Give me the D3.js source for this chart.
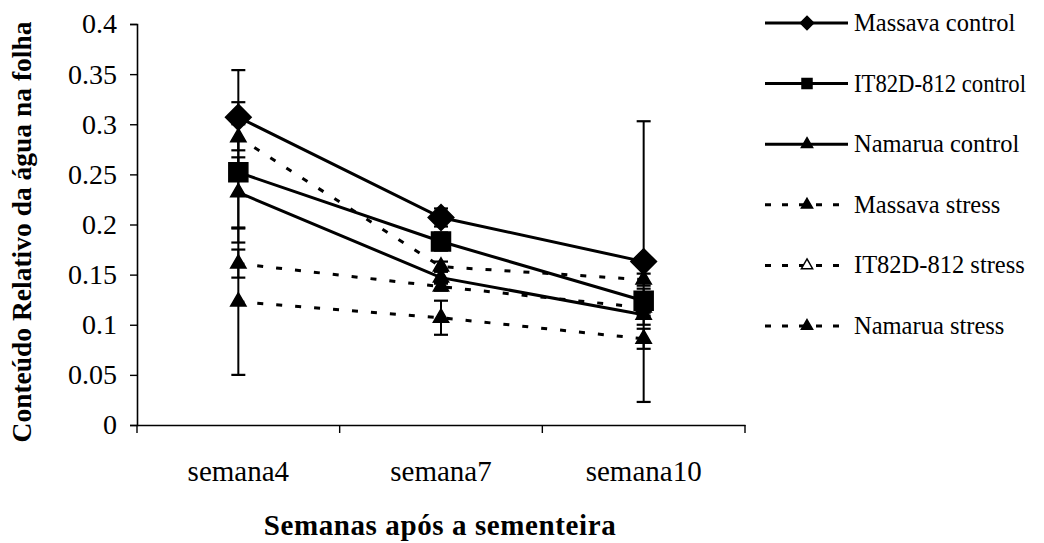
<html>
  <head>
    <script src="https://d3js.org/d3.v7.min.js" charset="utf-8"></script>
    <style type="text/css">
      body { margin: 0; padding: 0; background: #fff; }
      svg { display: block; }
    </style>
  </head>
  <body>
    <div id="chart"></div>
    <script type="text/javascript">
      // data
      var weeks = ["semana4", "semana7", "semana10"];
      var seriesNames = ["Massava control", "IT82D-812 control", "Namarua control",
                         "Massava stress", "IT82D-812 stress", "Namarua stress"];
      var massavaControl = [0.307, 0.207, 0.163];
      var it82Control    = [0.252, 0.183, 0.124];
      var namaruaControl = [0.232, 0.147, 0.110];
      var massavaStress  = [0.287, 0.158, 0.145];
      var it82Stress     = [0.161, 0.138, 0.117];
      var namaruaStress  = [0.123, 0.107, 0.086];
      // error bar half widths
      var massavaControlErr = [0.047, 0.009, 0.140];
      var it82ControlErr    = [0.070, 0.009, 0.012];
      var namaruaControlErr = [0.035, 0.006, 0.010];
      var massavaStressErr  = [0.013, 0.005, 0.006];
      var it82StressErr     = [0.014, 0.004, 0.008];
      var namaruaStressErr  = [0.073, 0.017, 0.010];
      var yTicks = [0, 0.05, 0.1, 0.15, 0.2, 0.25, 0.3, 0.35, 0.4];

      var series = [
        { name: seriesNames[0], values: massavaControl, err: massavaControlErr, dashed: false, marker: "diamond",  legendFill: "#000" },
        { name: seriesNames[1], values: it82Control,    err: it82ControlErr,    dashed: false, marker: "square",   legendFill: "#000" },
        { name: seriesNames[2], values: namaruaControl, err: namaruaControlErr, dashed: false, marker: "triangle", legendFill: "#000" },
        { name: seriesNames[3], values: massavaStress,  err: massavaStressErr,  dashed: true,  marker: "triangle", legendFill: "#000" },
        { name: seriesNames[4], values: it82Stress,     err: it82StressErr,     dashed: true,  marker: "triangle", legendFill: "#fff" },
        { name: seriesNames[5], values: namaruaStress,  err: namaruaStressErr,  dashed: true,  marker: "triangle", legendFill: "#000" }
      ];

      var W = 1044, H = 543;
      var svg = d3.select("#chart").append("svg").attr("width", W).attr("height", H)
        .attr("font-family", "'Liberation Serif', 'Times New Roman', serif");

      var x = d3.scaleBand().domain(weeks).range([137, 745]);
      var y = d3.scaleLinear().domain([0, 0.4]).range([425, 24]);
      function cx(c) { return x(c) + x.bandwidth() / 2; }

      // y axis
      var yAxis = svg.append("g").attr("transform", "translate(137,0)")
        .call(d3.axisLeft(y).tickValues(yTicks).tickSize(7).tickPadding(13)
          .tickFormat(function(d) { return String(+d.toFixed(2)); }));
      yAxis.attr("font-family", null);
      yAxis.select(".domain").attr("stroke-width", 1.6);
      yAxis.selectAll(".tick line").attr("stroke-width", 1.4);
      yAxis.selectAll("text").attr("font-size", 28).attr("fill", "#000");

      // x axis
      var xAxis = svg.append("g").attr("transform", "translate(0,425)")
        .call(d3.axisBottom(x).tickSize(0).tickPadding(35).tickSizeOuter(0));
      xAxis.attr("font-family", null);
      xAxis.select(".domain").attr("stroke-width", 1.6);
      xAxis.selectAll("text").attr("font-size", 29).attr("fill", "#000");
      var bounds = [x.range()[0]].concat(weeks.map(function(c) { return x(c) + x.bandwidth(); }));
      svg.append("g").selectAll("line").data(bounds).enter().append("line")
        .attr("x1", function(d) { return d; }).attr("x2", function(d) { return d; })
        .attr("y1", 425).attr("y2", 433)
        .attr("stroke", "#000").attr("stroke-width", 1.4);

      // titles
      svg.append("text")
        .attr("x", 440).attr("y", 535)
        .attr("text-anchor", "middle")
        .attr("font-size", 29).attr("font-weight", "bold")
        .attr("letter-spacing", 0.6)
        .text("Semanas após a sementeira");
      svg.append("text")
        .attr("transform", "translate(31,232) rotate(-90)")
        .attr("text-anchor", "middle")
        .attr("font-size", 27.5).attr("font-weight", "bold")
        .text("Conteúdo Relativo da água na folha");

      function markerPath(type, s) {
        if (type == "diamond") return d3.symbol().type(d3.symbolDiamond2).size(s * s * 0.5)();
        if (type == "square") return d3.symbol().type(d3.symbolSquare).size(s * s)();
        return d3.symbol().type(d3.symbolTriangle).size(s * s * 0.45)();
      }

      // error bars
      var eb = svg.append("g");
      series.forEach(function(s) {
        weeks.forEach(function(c, i) {
          var lo = y(s.values[i] - s.err[i]), hi = y(s.values[i] + s.err[i]), px = cx(c);
          eb.append("line").attr("x1", px).attr("x2", px).attr("y1", lo).attr("y2", hi)
            .attr("stroke", "#000").attr("stroke-width", 2);
          [lo, hi].forEach(function(v) {
            eb.append("line").attr("x1", px - 7).attr("x2", px + 7).attr("y1", v).attr("y2", v)
              .attr("stroke", "#000").attr("stroke-width", 2.2);
          });
        });
      });

      var line = d3.line()
        .x(function(d, i) { return cx(weeks[i]); })
        .y(function(d) { return y(d); });

      series.forEach(function(s) {
        svg.append("path").datum(s.values)
          .attr("d", line)
          .attr("fill", "none").attr("stroke", "#000")
          .attr("stroke-width", 3)
          .attr("stroke-dasharray", s.dashed ? "6,13" : null);
      });

      series.forEach(function(s) {
        var size = s.marker == "diamond" ? 29 : s.marker == "square" ? 19 : 15;
        svg.append("g").selectAll("path").data(s.values).enter().append("path")
          .attr("d", markerPath(s.marker, size))
          .attr("transform", function(d, i) { return "translate(" + cx(weeks[i]) + "," + y(d) + ")"; })
          .attr("fill", "#000").attr("stroke", "#000").attr("stroke-width", 1.5);
      });

      // legend
      var legend = svg.append("g").selectAll("g").data(series).enter().append("g")
        .attr("transform", function(d, i) { return "translate(0," + (23 + i * 60.6) + ")"; });
      legend.append("line")
        .attr("x1", 765).attr("x2", 848).attr("y1", 0).attr("y2", 0)
        .attr("stroke", "#000").attr("stroke-width", 3)
        .attr("stroke-dasharray", function(d) { return d.dashed ? "6,11" : null; });
      legend.append("path")
        .attr("d", function(d) { return markerPath(d.marker, d.marker == "diamond" ? 15 : d.marker == "square" ? 10 : 11); })
        .attr("transform", "translate(807,0)")
        .attr("fill", function(d) { return d.legendFill; })
        .attr("stroke", "#000").attr("stroke-width", 1.5);
      legend.append("text")
        .attr("x", 854).attr("y", 0).attr("dy", "0.33em")
        .attr("font-size", 24.5)
        .text(function(d) { return d.name; })
        .each(function() {
          if (this.getComputedTextLength() > 172) {
            d3.select(this).attr("textLength", 172).attr("lengthAdjust", "spacingAndGlyphs");
          }
        });
    </script>
  </body>
</html>
